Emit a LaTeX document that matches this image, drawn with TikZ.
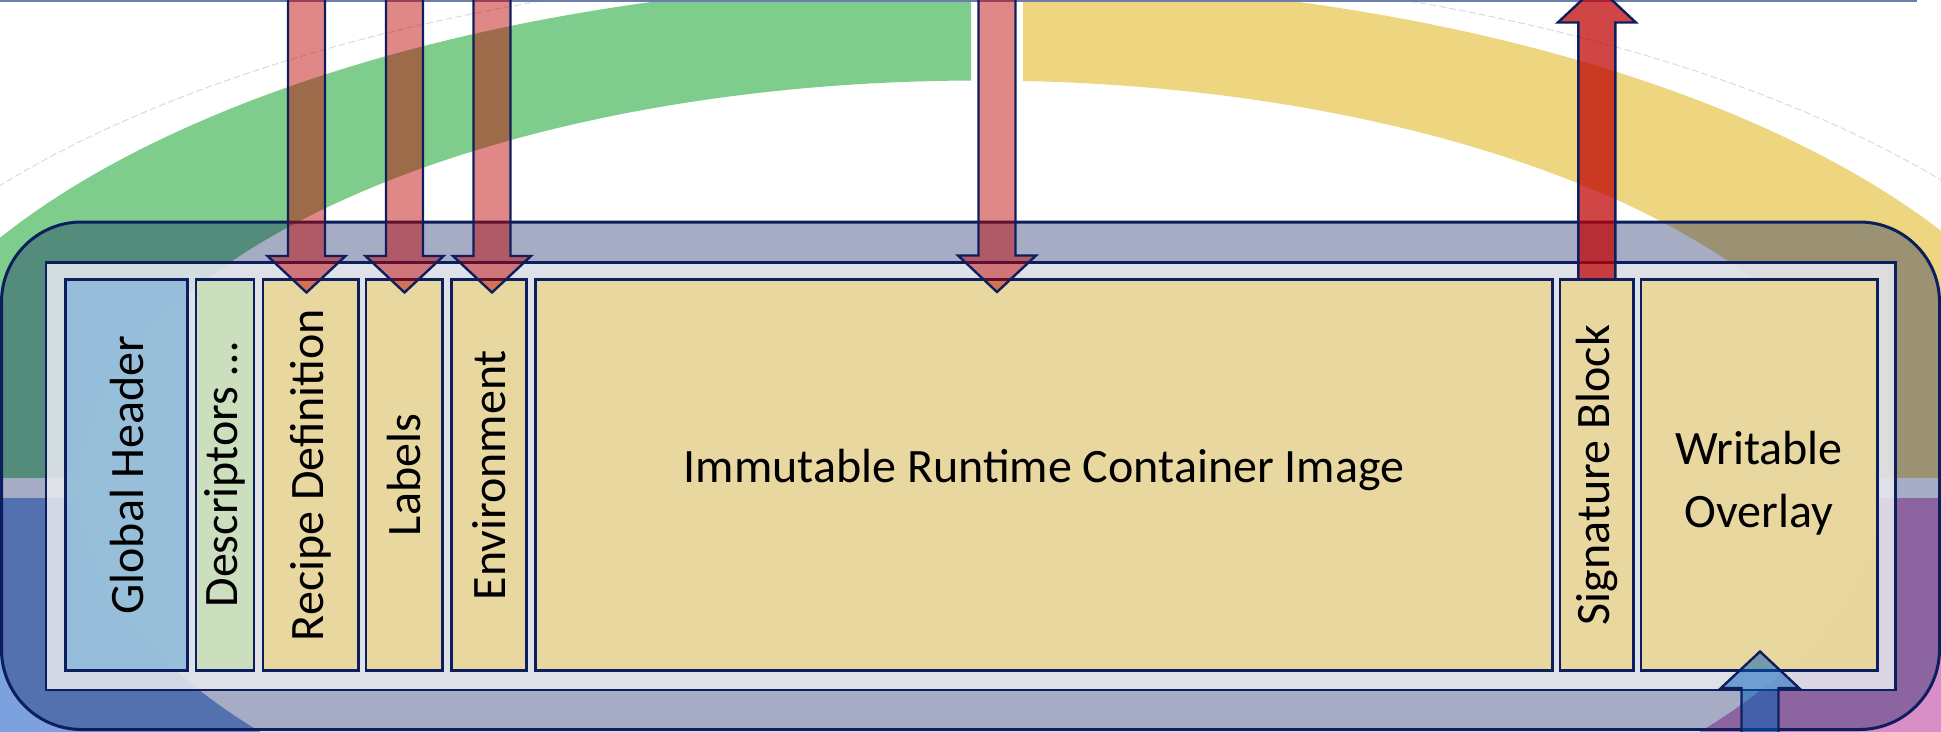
\documentclass[tikz,border=0pt]{standalone}
\usepackage{fontspec}
\setmainfont{Carlito}
\usetikzlibrary{calc}
\definecolor{navy}{RGB}{12,30,94}
\definecolor{ringgreen}{RGB}{127,205,140}
\definecolor{ringyellow}{RGB}{237,214,127}
\definecolor{ringpink}{RGB}{216,142,198}
\definecolor{ringblue}{RGB}{125,160,223}
\definecolor{tanfill}{RGB}{235,215,154}
\definecolor{ghblue}{RGB}{145,188,218}
\definecolor{descgreen}{RGB}{202,223,186}
\definecolor{innerfill}{RGB}{234,235,240}
\definecolor{arrowred}{RGB}{190,0,0}
\definecolor{arrowblue}{RGB}{0,92,184}
\definecolor{topline}{RGB}{110,125,170}
\definecolor{faint}{RGB}{215,215,215}
\tikzset{
  framebox/.style={draw=navy, line width=3pt, fill=navy, fill opacity=0.37,
    rounded corners=80pt, inner sep=0pt, outer sep=0pt, anchor=north west},
  innerbox/.style={draw=navy, line width=2.6pt, fill=innerfill, fill opacity=0.85,
    inner sep=0pt, outer sep=0pt, anchor=north west},
  cellbox/.style={draw=navy, line width=2.6pt, fill opacity=0.92, inner sep=0pt,
    outer sep=0pt, anchor=north west, minimum height=391pt},
  lbl/.style={font=\fontsize{48}{63}\selectfont, text=black, inner sep=0pt},
  blockarrow/.style={draw=navy, line width=2.4pt, line join=miter, fill=arrowred, fill opacity=0.47},
}
\newcommand\downblock[3][]{%
  \path[blockarrow,#1] let \p1=#2, \p2=#3 in
    (\x1-18.5pt,\y1) -- (\x1+18.5pt,\y1) -- (\x1+18.5pt,\y2+36.5pt) -- (\x1+39pt,\y2+36.5pt)
    -- (\x2,\y2) -- (\x1-39pt,\y2+36.5pt) -- (\x1-18.5pt,\y2+36.5pt) -- cycle;}
\newcommand\upblock[3][]{%
  \path[blockarrow,#1] let \p1=#2, \p2=#3 in
    (\x1-18.5pt,\y1) -- (\x1+18.5pt,\y1) -- (\x1+18.5pt,\y2-36.5pt) -- (\x1+39pt,\y2-36.5pt)
    -- (\x2,\y2) -- (\x1-39pt,\y2-36.5pt) -- (\x1-18.5pt,\y2-36.5pt) -- cycle;}
\begin{document}
\begin{tikzpicture}[x=1pt,y=-1pt]
\useasboundingbox (0,0) rectangle (1941,731);
\begin{scope}
\clip (0,0) rectangle (1941,731);
% faint outer trace
\draw[faint, line width=0.9pt, dash pattern=on 7pt off 3pt] (975,487.5) ellipse [x radius=1195, y radius=522];
% ring segments
\foreach \col/\xa/\xb/\ya/\yb in {ringgreen/-50/971/-50/477, ringyellow/1023/2000/-50/477,
    ringblue/-50/997/498/800, ringpink/997/2000/498/800} {
  \begin{scope}
    \clip (\xa,\ya) rectangle (\xb,\yb);
    \fill[\col, even odd rule] (975,487.5) ellipse [x radius=1120, y radius=507]
      (980,487.5) ellipse [x radius=900, y radius=407];
  \end{scope}
}
% top rule
\draw[topline, line width=1.5pt] (0,0.75) -- (1917,0.75);
% frames
\node[framebox, minimum width=1938pt, minimum height=507.5pt] (frame) at (1.5,222) {};
\node[innerbox, minimum width=1849.5pt, minimum height=427.5pt] (inner) at (46,262.5) {};
% cells
\node[cellbox, fill=ghblue, minimum width=122pt] (gh) at (65.7,279.5) {};
\node[cellbox, fill=descgreen, minimum width=58pt] (desc) at (196,279.5) {};
\node[cellbox, fill=tanfill, minimum width=95.3pt] (recipe) at (263,279.5) {};
\node[cellbox, fill=tanfill, minimum width=76.3pt] (labels) at (366,279.5) {};
\node[cellbox, fill=tanfill, minimum width=75pt] (env) at (451.7,279.5) {};
\node[cellbox, fill=tanfill, minimum width=1016.6pt] (img) at (535.7,279.5) {};
\node[cellbox, fill=tanfill, minimum width=73.7pt] (sig) at (1560,279.5) {};
\node[cellbox, fill=tanfill, minimum width=236.7pt] (wo) at (1641,279.5) {};
% labels
\node[lbl, rotate=90] (ghtext) at (gh.center) {Global Header};
\node[lbl, rotate=90] (desctext) at (desc.center) {Descriptors …};
\node[lbl, rotate=90] (recipetext) at (recipe.center) {Recipe Definition};
\node[lbl, rotate=90] (labelstext) at (labels.center) {Labels};
\node[lbl, rotate=90] (envtext) at (env.center) {Environment};
\node[lbl] (imgtext) at (1044,470) {Immutable Runtime Container Image};
\node[lbl, rotate=90] (sigtext) at (sig.center) {Signature Block};
\node[lbl, align=center] (wotext) at (1759,483) {Writable\\Overlay};
% arrow ends
\coordinate (s1) at (306.5,-20);
\coordinate (s2) at (404.5,-20);
\coordinate (s3) at (492,-20);
\coordinate (s4) at (997,-20);
\coordinate (t1) at ($(s1 |- recipe.north)+(0,13)$);
\coordinate (t2) at ($(s2 |- labels.north)+(0,13)$);
\coordinate (t3) at ($(s3 |- env.north)+(0,13)$);
\coordinate (t4) at ($(s4 |- img.north)+(0,12.5)$);
\coordinate (u4) at ($(sig.north)+(0,-293.5)$);
\coordinate (b0) at (1760,760);
\coordinate (b1) at ($(b0 |- wo.south)+(0,-19)$);
% arrows
\downblock{(s1)}{(t1)}
\downblock{(s2)}{(t2)}
\downblock{(s3)}{(t3)}
\downblock{(s4)}{(t4)}
\upblock[fill opacity=0.73]{(sig.north)}{(u4)}
\upblock[fill=arrowblue, fill opacity=0.5]{(b0)}{(b1)}
\end{scope}
\end{tikzpicture}
\end{document}
